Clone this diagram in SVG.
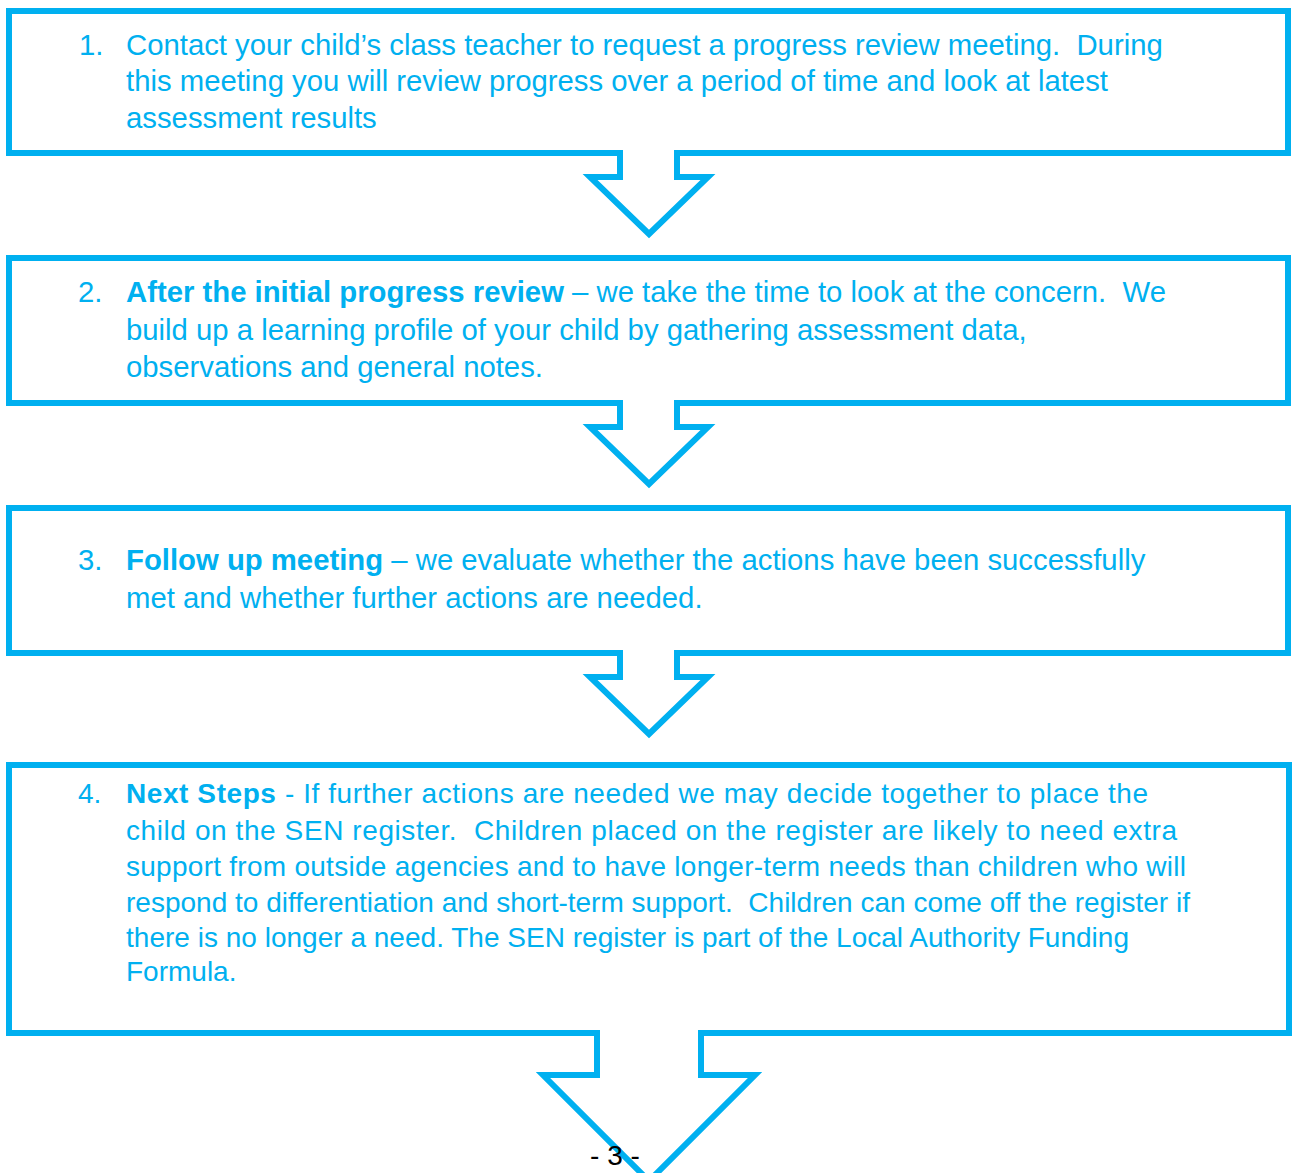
<svg xmlns="http://www.w3.org/2000/svg" width="1296" height="1173" viewBox="0 0 1296 1173">
<style>
.box{fill:#fff;stroke:#00B0F0;stroke-width:6}
.cover{fill:#fff;stroke:none}
.arr{fill:none;stroke:#00B0F0;stroke-width:6;stroke-linejoin:miter}
.t{font-family:"Liberation Sans",Arial,sans-serif;fill:#00B0F0;font-size:29.3px}
.t4{font-family:"Liberation Sans",Arial,sans-serif;fill:#00B0F0;font-size:28px}
.b{font-weight:bold}
.pg{font-family:"Liberation Sans",Arial,sans-serif;fill:#000;font-size:28px}
</style>
<rect width="1296" height="1173" fill="#fff"/>
<g id="node1">
<rect class="box" x="9" y="11" width="1279" height="142"/>
<text class="t" x="79" y="55">1.</text>
<text class="t" x="126" y="55" xml:space="preserve">Contact your child’s class teacher to request a progress review meeting.  During</text>
<text class="t" x="126" y="91">this meeting you will review progress over a period of time and look at latest</text>
<text class="t" x="126" y="128">assessment results</text>
</g>
<g id="node2">
<rect class="box" x="9" y="258" width="1279" height="145"/>
<text class="t" x="78" y="302">2.</text>
<text class="t" x="126" y="302" xml:space="preserve"><tspan class="b">After the initial progress review</tspan> – we take the time to look at the concern.  We</text>
<text class="t" x="126" y="340">build up a learning profile of your child by gathering assessment data,</text>
<text class="t" x="126" y="377">observations and general notes.</text>
</g>
<g id="node3">
<rect class="box" x="9" y="508" width="1279" height="145"/>
<text class="t" x="78" y="570">3.</text>
<text class="t" x="126" y="570"><tspan class="b">Follow up meeting</tspan> – we evaluate whether the actions have been successfully</text>
<text class="t" x="126" y="608">met and whether further actions are needed.</text>
</g>
<g id="node4">
<rect class="box" x="9" y="765" width="1280" height="268"/>
<text class="t4" x="78" y="803">4.</text>
<text class="t4" x="126" y="803" textLength="1022" lengthAdjust="spacing"><tspan class="b">Next Steps</tspan> - If further actions are needed we may decide together to place the</text>
<text class="t4" x="126" y="840" xml:space="preserve" textLength="1051" lengthAdjust="spacing">child on the SEN register.  Children placed on the register are likely to need extra</text>
<text class="t4" x="126" y="876" textLength="1060" lengthAdjust="spacing">support from outside agencies and to have longer-term needs than children who will</text>
<text class="t4" x="126" y="912" xml:space="preserve" textLength="1064" lengthAdjust="spacing">respond to differentiation and short-term support.  Children can come off the register if</text>
<text class="t4" x="126" y="947" textLength="1003" lengthAdjust="spacing">there is no longer a need. The SEN register is part of the Local Authority Funding</text>
<text class="t4" x="126" y="981">Formula.</text>
</g>
<g id="connectors">
<polygon class="cover" points="620,150 620,177 590,177 649,234 708,177 677,177 677,150"/>
<polyline class="arr" points="620,150 620,177 590,177 649,234 708,177 677,177 677,150"/>
<polygon class="cover" points="620,400 620,427 590,427 649,484 708,427 677,427 677,400"/>
<polyline class="arr" points="620,400 620,427 590,427 649,484 708,427 677,427 677,400"/>
<polygon class="cover" points="620,650 620,677 590,677 649,734 708,677 677,677 677,650"/>
<polyline class="arr" points="620,650 620,677 590,677 649,734 708,677 677,677 677,650"/>
<polygon class="cover" points="597,1030 597,1075 543,1075 649,1181 755,1075 701,1075 701,1030"/>
<polyline class="arr" points="597,1030 597,1075 543,1075 649,1181 755,1075 701,1075 701,1030"/>
</g>
<text class="pg" x="615" y="1165" text-anchor="middle">- 3 -</text>
</svg>
